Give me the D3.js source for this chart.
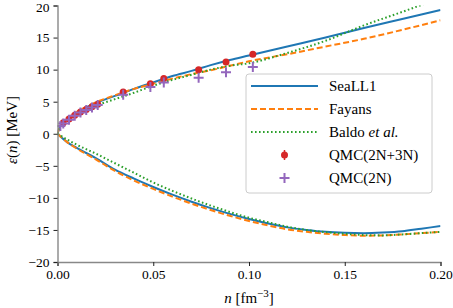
<!DOCTYPE html>
<html>
<head>
<meta charset="utf-8">
<script src="https://cdn.jsdelivr.net/npm/d3@7"></script>
<style>
  body { margin: 0; background: #fff; }
  svg, svg text { font-family: "Liberation Serif", "DejaVu Serif", serif; }
</style>
</head>
<body>
<div class="diagram-canvas"></div>
<script>
// density grid (fm^-3) for the functional curves
const nGrid = [0, 0.001, 0.0025, 0.005, 0.01, 0.015, 0.02, 0.03, 0.04, 0.05, 0.06, 0.07, 0.08, 0.09, 0.1, 0.12, 0.14, 0.16, 0.18, 0.2];
// neutron matter (upper branch)
const seaPNM = [0, 0.9, 1.5, 2.2, 3.3, 4.1, 4.8, 5.9, 7.0, 8.0, 9.0, 9.8, 10.7, 11.5, 12.2, 13.6, 15.0, 16.5, 17.9, 19.3];
const fayPNM = [0, 0.9, 1.5, 2.3, 3.4, 4.2, 4.9, 6.0, 7.0, 7.8, 8.6, 9.3, 9.9, 10.6, 11.3, 12.4, 13.6, 14.8, 16.2, 17.7];
const balPNM = [0, 0.7, 1.3, 2.0, 3.0, 3.8, 4.4, 5.4, 6.4, 7.5, 8.4, 9.2, 10.0, 10.6, 11.0, 12.6, 14.5, 16.9, 19.0, 21.2];

// symmetric matter (lower branch)
const nGridS = [0, 0.005, 0.01, 0.02, 0.03, 0.04, 0.05, 0.06, 0.07, 0.08, 0.09, 0.1, 0.11, 0.12, 0.13, 0.14, 0.15, 0.16, 0.17, 0.18, 0.19, 0.2];
const seaSNM = [0, -1.3, -2.2, -3.8, -5.6, -7.0, -8.3, -9.5, -10.6, -11.6, -12.5, -13.3, -14.0, -14.6, -15.0, -15.3, -15.45, -15.5, -15.4, -15.2, -14.8, -14.4];
const faySNM = [0, -1.3, -2.3, -4.0, -5.8, -7.3, -8.6, -9.8, -10.9, -11.9, -12.8, -13.6, -14.3, -14.9, -15.3, -15.6, -15.8, -15.9, -15.85, -15.7, -15.5, -15.3];
const balSNM = [0, -0.9, -1.7, -3.1, -4.6, -6.1, -7.6, -8.9, -10.1, -11.2, -12.2, -13.1, -13.8, -14.5, -15.0, -15.35, -15.6, -15.8, -15.85, -15.7, -15.5, -15.3];

// QMC points
const qmc3N_n = [0.003, 0.006, 0.009, 0.012, 0.015, 0.018, 0.021, 0.0343, 0.0485, 0.0555, 0.0737, 0.088, 0.102];
const qmc3N_e = [1.7, 2.3, 2.9, 3.4, 3.8, 4.2, 4.6, 6.5, 7.8, 8.6, 10.0, 11.2, 12.4];
const qmc3N_err = [0.1, 0.1, 0.1, 0.1, 0.1, 0.1, 0.1, 0.15, 0.2, 0.2, 0.25, 0.3, 0.3];
const qmc2N_n = [0.0015, 0.003, 0.006, 0.009, 0.012, 0.015, 0.018, 0.021, 0.0343, 0.0485, 0.0555, 0.0737, 0.088, 0.102];
const qmc2N_e = [1.2, 1.6, 2.2, 2.8, 3.3, 3.7, 4.1, 4.5, 6.1, 7.3, 8.0, 8.75, 9.6, 10.4];

const xTicks = [0, 0.05, 0.1, 0.15, 0.2];
const yTicks = [-20, -15, -10, -5, 0, 5, 10, 15, 20];

const colors = { sea: "#1f77b4", fay: "#ff7f0e", bal: "#2ca02c", q3: "#d62728", q2: "#9467bd" };

let width = 453, height = 308;
let mLeft = 57.5, mRight = 440.5, mTop = 5.5, mBottom = 262;

let xScale = d3.scaleLinear().domain([0, 0.2]).range([mLeft, mRight]);
let yScale = d3.scaleLinear().domain([-20, 20]).range([mBottom, mTop]);

let svg = d3.select(".diagram-canvas").append("svg")
  .attr("width", width).attr("height", height)
  .attr("font-family", "Liberation Serif");

svg.append("defs").append("clipPath").attr("id", "clip")
  .append("rect")
  .attr("x", mLeft).attr("y", mTop)
  .attr("width", mRight - mLeft).attr("height", mBottom - mTop);

let plot = svg.append("g").attr("clip-path", "url(#clip)");

let line = d3.line()
  .x((d) => xScale(d[0]))
  .y((d) => yScale(d[1]))
  .curve(d3.curveMonotoneX);

const curves = [
  { x: nGrid, y: seaPNM, color: colors.sea, dash: null },
  { x: nGridS, y: seaSNM, color: colors.sea, dash: null },
  { x: nGrid, y: fayPNM, color: colors.fay, dash: "6,3" },
  { x: nGridS, y: faySNM, color: colors.fay, dash: "6,3" },
  { x: nGrid, y: balPNM, color: colors.bal, dash: "1.6,2.4" },
  { x: nGridS, y: balSNM, color: colors.bal, dash: "1.6,2.4" },
];

curves.forEach((c) => {
  plot.append("path")
    .datum(c.x.map((v, i) => [v, c.y[i]]))
    .attr("d", line)
    .attr("fill", "none")
    .attr("stroke", c.color)
    .attr("stroke-width", 2)
    .attr("stroke-dasharray", c.dash);
});

// QMC(2N+3N) with error bars
let q3 = qmc3N_n.map((v, i) => ({ n: v, e: qmc3N_e[i], err: qmc3N_err[i] }));
plot.selectAll(".err").data(q3).enter().append("line")
  .attr("x1", (d) => xScale(d.n)).attr("x2", (d) => xScale(d.n))
  .attr("y1", (d) => yScale(d.e - d.err)).attr("y2", (d) => yScale(d.e + d.err))
  .attr("stroke", colors.q3).attr("stroke-width", 1.5);
plot.selectAll(".dot").data(q3).enter().append("circle")
  .attr("cx", (d) => xScale(d.n))
  .attr("cy", (d) => yScale(d.e))
  .attr("r", 3.5)
  .attr("fill", colors.q3);

// QMC(2N) crosses
plot.selectAll(".cross").data(qmc2N_n).enter().append("path")
  .attr("d", "M-5,0H5M0,-5V5")
  .attr("transform", (d, i) => "translate(" + xScale(d) + "," + yScale(qmc2N_e[i]) + ")")
  .attr("stroke", colors.q2)
  .attr("stroke-width", 2)
  .attr("fill", "none");

// axes
let xAxis = d3.axisBottom(xScale).tickValues(xTicks).tickFormat(d3.format(".2f")).tickSize(4).tickPadding(3);
let yAxis = d3.axisLeft(yScale).tickValues(yTicks).tickFormat((d) => (d < 0 ? "\u2212" + -d : d)).tickSize(4).tickPadding(4);

let gx = svg.append("g").attr("transform", "translate(0," + mBottom + ")").call(xAxis);
let gy = svg.append("g").attr("transform", "translate(" + mLeft + ",0)").call(yAxis);

[gx, gy].forEach((g) => {
  g.attr("font-family", "Liberation Serif").attr("font-size", 13.5);
  g.select(".domain").attr("stroke", "#888").attr("stroke-width", 1.4);
  g.selectAll(".tick line").attr("stroke", "#222").attr("stroke-width", 1);
  g.selectAll(".tick text").attr("fill", "#000");
});
gy.selectAll(".tick text").filter((d) => d == 20).attr("dy", "0.45em");

// axis labels
let yLab = svg.append("text")
  .attr("transform", "translate(17,130) rotate(-90)")
  .attr("text-anchor", "middle")
  .style("font-size", "15px");
yLab.append("tspan").style("font-style", "italic").text("\u03b5");
yLab.append("tspan").text("(");
yLab.append("tspan").style("font-style", "italic").text("n");
yLab.append("tspan").text(") [MeV]");

let xLab = svg.append("text")
  .attr("x", 249).attr("y", 303)
  .attr("text-anchor", "middle")
  .style("font-size", "15px");
xLab.append("tspan").style("font-style", "italic").text("n");
xLab.append("tspan").text(" [fm");
xLab.append("tspan").attr("dy", -6).style("font-size", "11px").text("\u22123");
xLab.append("tspan").attr("dy", 6).text("]");

// legend
let legendContainer = svg.append("g").attr("id", "legend");
legendContainer.append("rect")
  .attr("x", 246).attr("y", 74)
  .attr("width", 186).attr("height", 119)
  .attr("rx", 3)
  .attr("fill", "rgba(255,255,255,0.85)")
  .attr("stroke", "#ccc")
  .attr("stroke-width", 1);

const legendData = [
  { text: "SeaLL1", kind: "line", color: colors.sea, dash: null },
  { text: "Fayans", kind: "line", color: colors.fay, dash: "6,3" },
  { text: "Baldo", italic: " et al.", kind: "line", color: colors.bal, dash: "1.6,2.4" },
  { text: "QMC(2N+3N)", kind: "dot", color: colors.q3 },
  { text: "QMC(2N)", kind: "cross", color: colors.q2 },
];
const legendY = [86, 109, 132, 155, 178];

let legend = legendContainer.selectAll(".legend-label").data(legendData).enter()
  .append("g")
  .attr("class", "legend-label")
  .attr("transform", (d, i) => "translate(0," + legendY[i] + ")");

legend.filter((d) => d.kind == "line").append("line")
  .attr("x1", 251).attr("x2", 318)
  .attr("stroke", (d) => d.color)
  .attr("stroke-width", 2)
  .attr("stroke-dasharray", (d) => d.dash);
legend.filter((d) => d.kind == "dot").append("line")
  .attr("x1", 284.5).attr("x2", 284.5).attr("y1", -5).attr("y2", 5)
  .attr("stroke", (d) => d.color).attr("stroke-width", 1.5);
legend.filter((d) => d.kind == "dot").append("circle")
  .attr("cx", 284.5).attr("r", 3.5).attr("fill", (d) => d.color);
legend.filter((d) => d.kind == "cross").append("path")
  .attr("d", "M279.5,0H289.5M284.5,-5V5")
  .attr("stroke", (d) => d.color).attr("stroke-width", 2);

let lt = legend.append("text")
  .attr("x", 329).attr("y", 5)
  .style("font-size", "15px");
lt.append("tspan").text((d) => d.text);
lt.filter((d) => d.italic).append("tspan").style("font-style", "italic").text((d) => d.italic);
</script>
</body>
</html>
